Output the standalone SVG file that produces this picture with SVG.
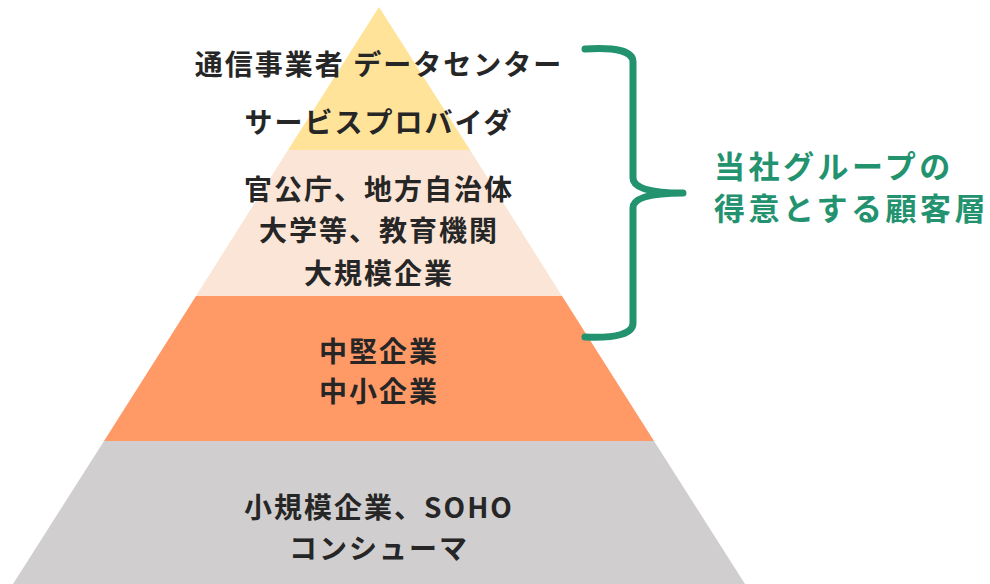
<svg xmlns="http://www.w3.org/2000/svg" width="990" height="584" viewBox="0 0 990 584">
<style>
.t{font-family:"Noto Sans CJK JP","Noto Sans",sans-serif;font-weight:700;font-size:28px;fill:#262626;text-anchor:middle;letter-spacing:2px}
.g{font-family:"Noto Sans CJK JP","Noto Sans",sans-serif;font-weight:700;font-size:31px;fill:#23926F;letter-spacing:3.5px}
</style>
<rect width="990" height="584" fill="#ffffff"/>
<g id="layer-top">
<polygon points="379,7 470,150 288,150" fill="#FFE399"/>
<text class="t" x="379" y="75">通信事業者 データセンター</text>
<text class="t" x="379" y="133">サービスプロバイダ</text>
</g>
<g id="layer-large">
<polygon points="288,150 470,150 562,296 196,296" fill="#FBE5D6"/>
<text class="t" x="379" y="200">官公庁、地方自治体</text>
<text class="t" x="379" y="241">大学等、教育機関</text>
<text class="t" x="379" y="284">大規模企業</text>
</g>
<g id="layer-mid">
<polygon points="196,296 562,296 654,441 104,441" fill="#FF9966"/>
<text class="t" x="379" y="362">中堅企業</text>
<text class="t" x="379" y="402">中小企業</text>
</g>
<g id="layer-small">
<polygon points="104,441 654,441 745,584 13,584" fill="#D0CECE"/>
<text class="t" x="379" y="518">小規模企業、SOHO</text>
<text class="t" x="379" y="559">コンシューマ</text>
</g>
<g id="connectors">
<path d="M585,49 Q633,46 633,62 L633,178 Q633,193 683,193 Q633,193 633,208 L633,323 Q633,339 585,337" fill="none" stroke="#23926F" stroke-width="7" stroke-linecap="round" stroke-linejoin="round"/>
</g>
<g id="label">
<text class="g" x="714" y="178">当社グループの</text>
<text class="g" x="714" y="220">得意とする顧客層</text>
</g>
</svg>
